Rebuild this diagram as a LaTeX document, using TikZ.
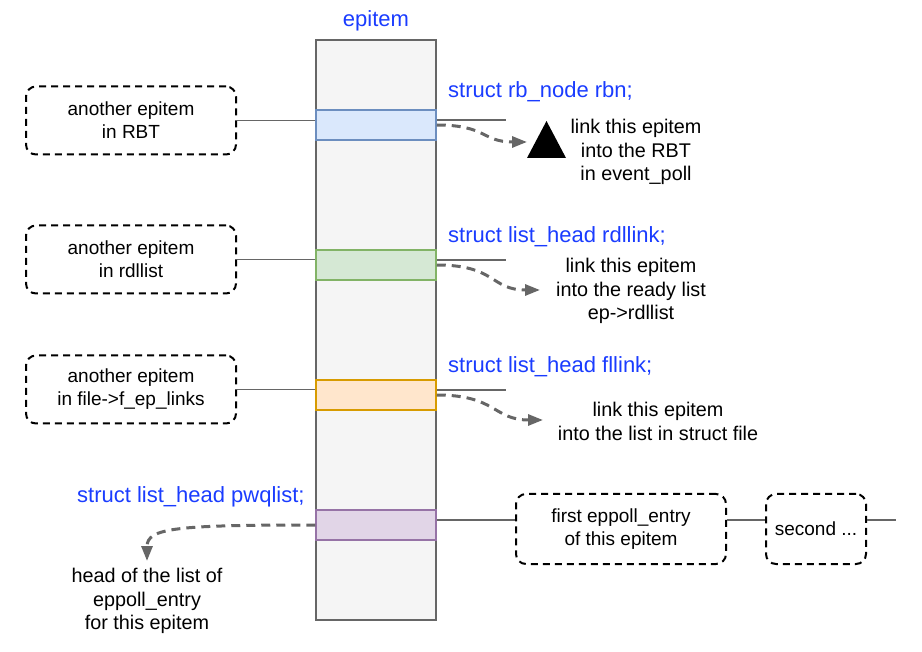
\documentclass[tikz,border=0pt]{standalone}
\usepackage{fontspec}
\setmainfont{Liberation Sans}
\usetikzlibrary{arrows.meta}
\definecolor{bluetxt}{RGB}{26,60,255}
\definecolor{gline}{HTML}{666666}
\definecolor{mainfill}{HTML}{F5F5F5}
\definecolor{bfill}{HTML}{DAE8FC}\definecolor{bdraw}{HTML}{6C8EBF}
\definecolor{gfill}{HTML}{D5E8D4}\definecolor{gdraw}{HTML}{82B366}
\definecolor{ofill}{HTML}{FFE6CC}\definecolor{odraw}{HTML}{D79B00}
\definecolor{pfill}{HTML}{E1D5E7}\definecolor{pdraw}{HTML}{9673A6}
\begin{document}
\begin{tikzpicture}[x=1pt,y=-1pt,
 blk/.style={font=\fontsize{19.8}{23.5}\selectfont, align=center, inner sep=0pt},
 bluelbl/.style={font=\fontsize{22}{26}\selectfont, text=bluetxt, inner sep=0pt},
 dbox/.style={draw=black, line width=2pt, dash pattern=on 7pt off 5pt, rounded corners=10pt,
   minimum width=210pt, minimum height=68pt, align=center, inner sep=0pt,
   font=\fontsize{19}{23}\selectfont},
 band/.style={minimum width=120pt, minimum height=30pt, line width=1.5pt, inner sep=0pt},
 conn/.style={draw=gline, line width=1.5pt},
 darrow/.style={draw=gline, line width=3pt, dash pattern=on 9pt off 6pt,
   -{Triangle[length=15pt,width=11pt]}}
]
\useasboundingbox (0,0) rectangle (922,652);
% main struct
\node[draw=gline, fill=mainfill, line width=1.5pt, minimum width=120pt, minimum height=580pt, inner sep=0pt] (main) at (376,330) {};
\node[bluelbl] (title) at (376,21) {epitem};
% bands
\node[band, fill=bfill, draw=bdraw] (bandB) at (376,125) {};
\node[band, fill=gfill, draw=gdraw] (bandG) at (376,265) {};
\node[band, fill=ofill, draw=odraw] (bandO) at (376,395) {};
\node[band, fill=pfill, draw=pdraw] (bandP) at (376,525) {};
% blue labels
\node[bluelbl, anchor=west] (lB) at (448,91.5) {struct rb\_node rbn;};
\node[bluelbl, anchor=west] (lG) at (448,236.5) {struct list\_head rdllink;};
\node[bluelbl, anchor=west] (lO) at (448,366.5) {struct list\_head fllink;};
\node[bluelbl, anchor=west] (lP) at (77,496.5) {struct list\_head pwqlist;};
% dashed boxes
\node[dbox] (b1) at (131,120.5) {another epitem\\in RBT};
\node[dbox] (b2) at (131,259.5) {another epitem\\in rdllist};
\node[dbox] (b3) at (131,389.5) {another epitem\\in file->f\_ep\_links};
\node[dbox, minimum height=70pt] (b4) at (621,529) {first eppoll\_entry\\of this epitem};
\node[dbox, minimum height=70pt, minimum width=100pt] (b5) at (816,529) {second ...};
% coordinates for stubs
\coordinate (sB) at (506,120);
\coordinate (sG) at (506,260);
\coordinate (sO) at (506,390);
\coordinate (sP) at (896,520);
% solid connectors
\draw[conn] (b1.east) -- (bandB.west |- b1.east);
\draw[conn] (b2.east) -- (bandG.west |- b2.east);
\draw[conn] (b3.east) -- (bandO.west |- b3.east);
\draw[conn] (bandB.east |- sB) -- (sB);
\draw[conn] (bandG.east |- sG) -- (sG);
\draw[conn] (bandO.east |- sO) -- (sO);
\draw[conn] (bandP.east |- sP) -- (b4.west |- sP);
\draw[conn] (b4.east |- sP) -- (b5.west |- sP);
\draw[conn] (b5.east |- sP) -- (sP);
% triangle
\fill[black] (527,158) -- (566,158) -- (546.5,121) -- cycle;
% text blocks
\node[blk] (tB) at (636,152) {link this epitem\\into the RBT\\in event\_poll};
\node[blk] (tG) at (631,291) {link this epitem\\into the ready list\\ep->rdllist};
\node[blk] (tO) at (658,421.5) {link this epitem\\into the list in struct file};
\node[blk] (tP) at (147,601) {head of the list of\\eppoll\_entry\\for this epitem};
% dashed arrows
\coordinate (eB) at (527,142);
\coordinate (eG) at (540,290);
\coordinate (eO) at (543,420);
\coordinate (eP) at (147,561);
\draw[darrow] (bandB.east) .. controls +(50,0) and +(-45,0) .. (eB);
\draw[darrow] (bandG.east) .. controls +(60,0) and +(-50,0) .. (eG);
\draw[darrow] (bandO.east) .. controls +(60,0) and +(-50,0) .. (eO);
\draw[darrow] (bandP.west) .. controls (175,525) and (147,528) .. (eP);
\end{tikzpicture}
\end{document}
